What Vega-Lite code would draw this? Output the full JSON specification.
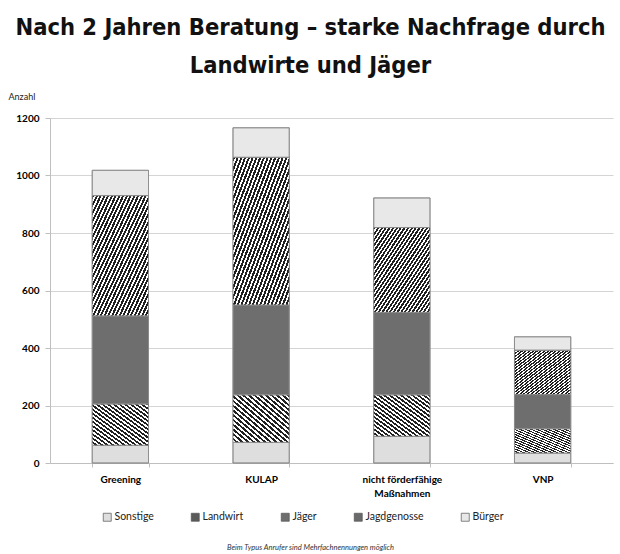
{
  "$schema": "https://vega.github.io/schema/vega-lite/v6.json",
  "width": 563,
  "height": 345,
  "autosize": {"type": "none"},
  "padding": {"left": 50, "top": 118, "right": 7, "bottom": 91},
  "background": "white",
  "title": {
    "text": ["Nach 2 Jahren Beratung – starke Nachfrage durch", "Landwirte und Jäger"],
    "font": "DejaVu Sans Condensed",
    "fontSize": 23.5,
    "fontWeight": "bold",
    "color": "#111111",
    "anchor": "middle",
    "frame": "group",
    "dx": -21,
    "lineHeight": 38,
    "offset": 15
  },
  "data": {
    "values": [
      {"Bereich": "Greening", "Typ": "Sonstige", "Anzahl": 62},
      {"Bereich": "Greening", "Typ": "Jagdgenosse", "Anzahl": 143},
      {"Bereich": "Greening", "Typ": "Jäger", "Anzahl": 307},
      {"Bereich": "Greening", "Typ": "Landwirt", "Anzahl": 418},
      {"Bereich": "Greening", "Typ": "Bürger", "Anzahl": 88},
      {"Bereich": "KULAP", "Typ": "Sonstige", "Anzahl": 72},
      {"Bereich": "KULAP", "Typ": "Jagdgenosse", "Anzahl": 165},
      {"Bereich": "KULAP", "Typ": "Jäger", "Anzahl": 313},
      {"Bereich": "KULAP", "Typ": "Landwirt", "Anzahl": 513},
      {"Bereich": "KULAP", "Typ": "Bürger", "Anzahl": 103},
      {"Bereich": "nicht förderfähige Maßnahmen", "Typ": "Sonstige", "Anzahl": 93},
      {"Bereich": "nicht förderfähige Maßnahmen", "Typ": "Jagdgenosse", "Anzahl": 144},
      {"Bereich": "nicht förderfähige Maßnahmen", "Typ": "Jäger", "Anzahl": 287},
      {"Bereich": "nicht förderfähige Maßnahmen", "Typ": "Landwirt", "Anzahl": 295},
      {"Bereich": "nicht förderfähige Maßnahmen", "Typ": "Bürger", "Anzahl": 103},
      {"Bereich": "VNP", "Typ": "Sonstige", "Anzahl": 35},
      {"Bereich": "VNP", "Typ": "Jagdgenosse", "Anzahl": 84},
      {"Bereich": "VNP", "Typ": "Jäger", "Anzahl": 119},
      {"Bereich": "VNP", "Typ": "Landwirt", "Anzahl": 154},
      {"Bereich": "VNP", "Typ": "Bürger", "Anzahl": 47}
    ]
  },
  "transform": [
    {"calculate": "indexof(['Sonstige', 'Jagdgenosse', 'Jäger', 'Landwirt', 'Bürger'], datum.Typ)", "as": "Stapelfolge"}
  ],
  "encoding": {
    "x": {
      "field": "Bereich",
      "type": "nominal",
      "sort": null,
      "scale": {"paddingInner": 0.6, "paddingOuter": 0.3},
      "axis": {
        "labelAngle": 0,
        "labelFont": "Lato",
        "labelFontWeight": "bold",
        "labelFontSize": 10,
        "labelColor": "#000000",
        "labelPadding": 7,
        "labelLineHeight": 14,
        "labelExpr": "datum.label == 'nicht förderfähige Maßnahmen' ? ['nicht förderfähige', 'Maßnahmen'] : datum.label",
        "tickBand": "extent",
        "tickSize": 4,
        "tickColor": "#bfbfbf",
        "domainColor": "#bfbfbf",
        "title": "Beim Typus Anrufer sind Mehrfachnennungen möglich",
        "titleFont": "Lato",
        "titleFontStyle": "italic",
        "titleFontWeight": "normal",
        "titleFontSize": 7.5,
        "titleColor": "#333333",
        "titleX": 260,
        "titleY": 88,
        "titleBaseline": "bottom"
      }
    },
    "y": {
      "field": "Anzahl",
      "type": "quantitative",
      "stack": "zero",
      "scale": {"domain": [0, 1200], "nice": false},
      "axis": {
        "title": "Anzahl",
        "titleAngle": 0,
        "titleAlign": "left",
        "titleBaseline": "bottom",
        "titleX": -42,
        "titleY": -17,
        "titleFont": "Lato",
        "titleFontSize": 9,
        "titleFontWeight": "normal",
        "titleColor": "#222222",
        "values": [0, 200, 400, 600, 800, 1000, 1200],
        "format": "d",
        "labelFont": "Lato",
        "labelFontWeight": "bold",
        "labelFontSize": 10,
        "labelColor": "#000000",
        "labelPadding": 6,
        "tickSize": 5,
        "tickColor": "#bfbfbf",
        "domainColor": "#bfbfbf",
        "gridColor": "#d4d4d4"
      }
    },
    "order": {"field": "Stapelfolge", "type": "quantitative", "sort": "ascending"}
  },
  "layer": [
    {
      "mark": {"type": "bar", "stroke": "#8a8a8a", "strokeWidth": 0.8},
      "encoding": {
        "color": {
          "field": "Typ",
          "type": "nominal",
          "scale": {
            "domain": ["Sonstige", "Landwirt", "Jäger", "Jagdgenosse", "Bürger"],
            "range": ["#dedede", "#5a5a5a", "#6e6e6e", "#6a6a6a", "#e8e8e8"]
          },
          "legend": {
            "orient": "none",
            "legendX": 52,
            "legendY": 394,
            "direction": "horizontal",
            "columns": 5,
            "gridAlign": "none",
            "columnPadding": 35,
            "title": null,
            "symbolType": "square",
            "symbolSize": 64,
            "symbolStrokeColor": "#555555",
            "symbolStrokeWidth": 0.7,
            "labelFont": "Lato",
            "labelFontSize": 10.5,
            "labelColor": "#222222",
            "labelOffset": 2
          }
        }
      }
    },
    {
      "mark": {"type": "bar", "stroke": "#8a8a8a", "strokeWidth": 0.8},
      "encoding": {
        "detail": {"field": "Typ", "type": "nominal"},
        "fill": {
          "condition": [
            {
              "test": "datum.Typ === 'Landwirt'",
              "value": {
                "gradient": "linear",
                "x1": 0, "y1": 0, "x2": 1, "y2": 1,
                "stops": [
                  {"offset": 0, "color": "#202020"}, {"offset": 0.0183, "color": "#202020"}, {"offset": 0.0183, "color": "#ffffff"}, {"offset": 0.0333, "color": "#ffffff"},
                  {"offset": 0.0333, "color": "#202020"}, {"offset": 0.0517, "color": "#202020"}, {"offset": 0.0517, "color": "#ffffff"}, {"offset": 0.0667, "color": "#ffffff"},
                  {"offset": 0.0667, "color": "#202020"}, {"offset": 0.085, "color": "#202020"}, {"offset": 0.085, "color": "#ffffff"}, {"offset": 0.1, "color": "#ffffff"},
                  {"offset": 0.1, "color": "#202020"}, {"offset": 0.1183, "color": "#202020"}, {"offset": 0.1183, "color": "#ffffff"}, {"offset": 0.1333, "color": "#ffffff"},
                  {"offset": 0.1333, "color": "#202020"}, {"offset": 0.1517, "color": "#202020"}, {"offset": 0.1517, "color": "#ffffff"}, {"offset": 0.1667, "color": "#ffffff"},
                  {"offset": 0.1667, "color": "#202020"}, {"offset": 0.185, "color": "#202020"}, {"offset": 0.185, "color": "#ffffff"}, {"offset": 0.2, "color": "#ffffff"},
                  {"offset": 0.2, "color": "#202020"}, {"offset": 0.2183, "color": "#202020"}, {"offset": 0.2183, "color": "#ffffff"}, {"offset": 0.2333, "color": "#ffffff"},
                  {"offset": 0.2333, "color": "#202020"}, {"offset": 0.2517, "color": "#202020"}, {"offset": 0.2517, "color": "#ffffff"}, {"offset": 0.2667, "color": "#ffffff"},
                  {"offset": 0.2667, "color": "#202020"}, {"offset": 0.285, "color": "#202020"}, {"offset": 0.285, "color": "#ffffff"}, {"offset": 0.3, "color": "#ffffff"},
                  {"offset": 0.3, "color": "#202020"}, {"offset": 0.3183, "color": "#202020"}, {"offset": 0.3183, "color": "#ffffff"}, {"offset": 0.3333, "color": "#ffffff"},
                  {"offset": 0.3333, "color": "#202020"}, {"offset": 0.3517, "color": "#202020"}, {"offset": 0.3517, "color": "#ffffff"}, {"offset": 0.3667, "color": "#ffffff"},
                  {"offset": 0.3667, "color": "#202020"}, {"offset": 0.385, "color": "#202020"}, {"offset": 0.385, "color": "#ffffff"}, {"offset": 0.4, "color": "#ffffff"},
                  {"offset": 0.4, "color": "#202020"}, {"offset": 0.4183, "color": "#202020"}, {"offset": 0.4183, "color": "#ffffff"}, {"offset": 0.4333, "color": "#ffffff"},
                  {"offset": 0.4333, "color": "#202020"}, {"offset": 0.4517, "color": "#202020"}, {"offset": 0.4517, "color": "#ffffff"}, {"offset": 0.4667, "color": "#ffffff"},
                  {"offset": 0.4667, "color": "#202020"}, {"offset": 0.485, "color": "#202020"}, {"offset": 0.485, "color": "#ffffff"}, {"offset": 0.5, "color": "#ffffff"},
                  {"offset": 0.5, "color": "#202020"}, {"offset": 0.5183, "color": "#202020"}, {"offset": 0.5183, "color": "#ffffff"}, {"offset": 0.5333, "color": "#ffffff"},
                  {"offset": 0.5333, "color": "#202020"}, {"offset": 0.5517, "color": "#202020"}, {"offset": 0.5517, "color": "#ffffff"}, {"offset": 0.5667, "color": "#ffffff"},
                  {"offset": 0.5667, "color": "#202020"}, {"offset": 0.585, "color": "#202020"}, {"offset": 0.585, "color": "#ffffff"}, {"offset": 0.6, "color": "#ffffff"},
                  {"offset": 0.6, "color": "#202020"}, {"offset": 0.6183, "color": "#202020"}, {"offset": 0.6183, "color": "#ffffff"}, {"offset": 0.6333, "color": "#ffffff"},
                  {"offset": 0.6333, "color": "#202020"}, {"offset": 0.6517, "color": "#202020"}, {"offset": 0.6517, "color": "#ffffff"}, {"offset": 0.6667, "color": "#ffffff"},
                  {"offset": 0.6667, "color": "#202020"}, {"offset": 0.685, "color": "#202020"}, {"offset": 0.685, "color": "#ffffff"}, {"offset": 0.7, "color": "#ffffff"},
                  {"offset": 0.7, "color": "#202020"}, {"offset": 0.7183, "color": "#202020"}, {"offset": 0.7183, "color": "#ffffff"}, {"offset": 0.7333, "color": "#ffffff"},
                  {"offset": 0.7333, "color": "#202020"}, {"offset": 0.7517, "color": "#202020"}, {"offset": 0.7517, "color": "#ffffff"}, {"offset": 0.7667, "color": "#ffffff"},
                  {"offset": 0.7667, "color": "#202020"}, {"offset": 0.785, "color": "#202020"}, {"offset": 0.785, "color": "#ffffff"}, {"offset": 0.8, "color": "#ffffff"},
                  {"offset": 0.8, "color": "#202020"}, {"offset": 0.8183, "color": "#202020"}, {"offset": 0.8183, "color": "#ffffff"}, {"offset": 0.8333, "color": "#ffffff"},
                  {"offset": 0.8333, "color": "#202020"}, {"offset": 0.8517, "color": "#202020"}, {"offset": 0.8517, "color": "#ffffff"}, {"offset": 0.8667, "color": "#ffffff"},
                  {"offset": 0.8667, "color": "#202020"}, {"offset": 0.885, "color": "#202020"}, {"offset": 0.885, "color": "#ffffff"}, {"offset": 0.9, "color": "#ffffff"},
                  {"offset": 0.9, "color": "#202020"}, {"offset": 0.9183, "color": "#202020"}, {"offset": 0.9183, "color": "#ffffff"}, {"offset": 0.9333, "color": "#ffffff"},
                  {"offset": 0.9333, "color": "#202020"}, {"offset": 0.9517, "color": "#202020"}, {"offset": 0.9517, "color": "#ffffff"}, {"offset": 0.9667, "color": "#ffffff"},
                  {"offset": 0.9667, "color": "#202020"}, {"offset": 0.985, "color": "#202020"}, {"offset": 0.985, "color": "#ffffff"}, {"offset": 1, "color": "#ffffff"}
                ]
              }
            },
            {
              "test": "datum.Typ === 'Jagdgenosse'",
              "value": {
                "gradient": "linear",
                "x1": 1, "y1": 0, "x2": 0, "y2": 1,
                "stops": [
                  {"offset": 0, "color": "#202020"}, {"offset": 0.025, "color": "#202020"}, {"offset": 0.025, "color": "#ffffff"}, {"offset": 0.05, "color": "#ffffff"},
                  {"offset": 0.05, "color": "#202020"}, {"offset": 0.075, "color": "#202020"}, {"offset": 0.075, "color": "#ffffff"}, {"offset": 0.1, "color": "#ffffff"},
                  {"offset": 0.1, "color": "#202020"}, {"offset": 0.125, "color": "#202020"}, {"offset": 0.125, "color": "#ffffff"}, {"offset": 0.15, "color": "#ffffff"},
                  {"offset": 0.15, "color": "#202020"}, {"offset": 0.175, "color": "#202020"}, {"offset": 0.175, "color": "#ffffff"}, {"offset": 0.2, "color": "#ffffff"},
                  {"offset": 0.2, "color": "#202020"}, {"offset": 0.225, "color": "#202020"}, {"offset": 0.225, "color": "#ffffff"}, {"offset": 0.25, "color": "#ffffff"},
                  {"offset": 0.25, "color": "#202020"}, {"offset": 0.275, "color": "#202020"}, {"offset": 0.275, "color": "#ffffff"}, {"offset": 0.3, "color": "#ffffff"},
                  {"offset": 0.3, "color": "#202020"}, {"offset": 0.325, "color": "#202020"}, {"offset": 0.325, "color": "#ffffff"}, {"offset": 0.35, "color": "#ffffff"},
                  {"offset": 0.35, "color": "#202020"}, {"offset": 0.375, "color": "#202020"}, {"offset": 0.375, "color": "#ffffff"}, {"offset": 0.4, "color": "#ffffff"},
                  {"offset": 0.4, "color": "#202020"}, {"offset": 0.425, "color": "#202020"}, {"offset": 0.425, "color": "#ffffff"}, {"offset": 0.45, "color": "#ffffff"},
                  {"offset": 0.45, "color": "#202020"}, {"offset": 0.475, "color": "#202020"}, {"offset": 0.475, "color": "#ffffff"}, {"offset": 0.5, "color": "#ffffff"},
                  {"offset": 0.5, "color": "#202020"}, {"offset": 0.525, "color": "#202020"}, {"offset": 0.525, "color": "#ffffff"}, {"offset": 0.55, "color": "#ffffff"},
                  {"offset": 0.55, "color": "#202020"}, {"offset": 0.575, "color": "#202020"}, {"offset": 0.575, "color": "#ffffff"}, {"offset": 0.6, "color": "#ffffff"},
                  {"offset": 0.6, "color": "#202020"}, {"offset": 0.625, "color": "#202020"}, {"offset": 0.625, "color": "#ffffff"}, {"offset": 0.65, "color": "#ffffff"},
                  {"offset": 0.65, "color": "#202020"}, {"offset": 0.675, "color": "#202020"}, {"offset": 0.675, "color": "#ffffff"}, {"offset": 0.7, "color": "#ffffff"},
                  {"offset": 0.7, "color": "#202020"}, {"offset": 0.725, "color": "#202020"}, {"offset": 0.725, "color": "#ffffff"}, {"offset": 0.75, "color": "#ffffff"},
                  {"offset": 0.75, "color": "#202020"}, {"offset": 0.775, "color": "#202020"}, {"offset": 0.775, "color": "#ffffff"}, {"offset": 0.8, "color": "#ffffff"},
                  {"offset": 0.8, "color": "#202020"}, {"offset": 0.825, "color": "#202020"}, {"offset": 0.825, "color": "#ffffff"}, {"offset": 0.85, "color": "#ffffff"},
                  {"offset": 0.85, "color": "#202020"}, {"offset": 0.875, "color": "#202020"}, {"offset": 0.875, "color": "#ffffff"}, {"offset": 0.9, "color": "#ffffff"},
                  {"offset": 0.9, "color": "#202020"}, {"offset": 0.925, "color": "#202020"}, {"offset": 0.925, "color": "#ffffff"}, {"offset": 0.95, "color": "#ffffff"},
                  {"offset": 0.95, "color": "#202020"}, {"offset": 0.975, "color": "#202020"}, {"offset": 0.975, "color": "#ffffff"}, {"offset": 1, "color": "#ffffff"}
                ]
              }
            }
          ],
          "value": "transparent"
        }
      }
    }
  ],
  "config": {"view": {"stroke": null}}
}
